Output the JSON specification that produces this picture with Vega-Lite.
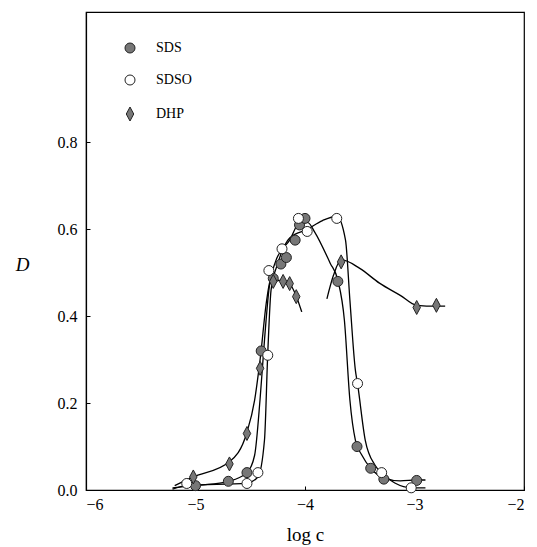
{
  "$schema": "https://vega.github.io/schema/vega-lite/v6.json",
  "width": 438,
  "height": 478,
  "autosize": "none",
  "padding": {"left": 86, "top": 12, "right": 13, "bottom": 57},
  "background": "white",
  "datasets": {
    "curves": [
      {"curve": "SDS", "x": -5.21, "y": 0.005},
      {"curve": "SDS", "x": -4.96, "y": 0.011},
      {"curve": "SDS", "x": -4.70, "y": 0.02},
      {"curve": "SDS", "x": -4.53, "y": 0.04},
      {"curve": "SDS", "x": -4.46, "y": 0.08},
      {"curve": "SDS", "x": -4.41, "y": 0.21},
      {"curve": "SDS", "x": -4.37, "y": 0.345},
      {"curve": "SDS", "x": -4.33, "y": 0.46},
      {"curve": "SDS", "x": -4.27, "y": 0.525},
      {"curve": "SDS", "x": -4.14, "y": 0.575},
      {"curve": "SDS", "x": -4.04, "y": 0.618},
      {"curve": "SDS", "x": -3.97, "y": 0.615},
      {"curve": "SDS", "x": -3.91, "y": 0.593},
      {"curve": "SDS", "x": -3.77, "y": 0.522},
      {"curve": "SDS", "x": -3.70, "y": 0.483},
      {"curve": "SDS", "x": -3.64, "y": 0.39},
      {"curve": "SDS", "x": -3.59, "y": 0.207},
      {"curve": "SDS", "x": -3.54, "y": 0.115},
      {"curve": "SDS", "x": -3.48, "y": 0.08},
      {"curve": "SDS", "x": -3.40, "y": 0.05},
      {"curve": "SDS", "x": -3.28, "y": 0.028},
      {"curve": "SDS", "x": -3.13, "y": 0.021},
      {"curve": "SDS", "x": -2.98, "y": 0.023},
      {"curve": "SDS", "x": -2.90, "y": 0.023},
      {"curve": "SDSO", "x": -5.21, "y": 0.002},
      {"curve": "SDSO", "x": -5.08, "y": 0.01},
      {"curve": "SDSO", "x": -4.53, "y": 0.016},
      {"curve": "SDSO", "x": -4.43, "y": 0.03},
      {"curve": "SDSO", "x": -4.37, "y": 0.115},
      {"curve": "SDSO", "x": -4.34, "y": 0.315},
      {"curve": "SDSO", "x": -4.31, "y": 0.46},
      {"curve": "SDSO", "x": -4.25, "y": 0.52},
      {"curve": "SDSO", "x": -4.14, "y": 0.58},
      {"curve": "SDSO", "x": -3.98, "y": 0.60},
      {"curve": "SDSO", "x": -3.84, "y": 0.62},
      {"curve": "SDSO", "x": -3.71, "y": 0.63},
      {"curve": "SDSO", "x": -3.63, "y": 0.575},
      {"curve": "SDSO", "x": -3.59, "y": 0.437},
      {"curve": "SDSO", "x": -3.54, "y": 0.276},
      {"curve": "SDSO", "x": -3.52, "y": 0.244},
      {"curve": "SDSO", "x": -3.45, "y": 0.115},
      {"curve": "SDSO", "x": -3.36, "y": 0.057},
      {"curve": "SDSO", "x": -3.30, "y": 0.039},
      {"curve": "SDSO", "x": -3.18, "y": 0.016},
      {"curve": "SDSO", "x": -3.02, "y": 0.005},
      {"curve": "SDSO", "x": -2.90, "y": 0.005},
      {"curve": "DHP1", "x": -5.19, "y": 0.01},
      {"curve": "DHP1", "x": -5.02, "y": 0.03},
      {"curve": "DHP1", "x": -4.69, "y": 0.065},
      {"curve": "DHP1", "x": -4.53, "y": 0.133},
      {"curve": "DHP1", "x": -4.46, "y": 0.207},
      {"curve": "DHP1", "x": -4.41, "y": 0.30},
      {"curve": "DHP1", "x": -4.35, "y": 0.437},
      {"curve": "DHP1", "x": -4.31, "y": 0.487},
      {"curve": "DHP1", "x": -4.25, "y": 0.483},
      {"curve": "DHP1", "x": -4.14, "y": 0.474},
      {"curve": "DHP1", "x": -4.08, "y": 0.446},
      {"curve": "DHP1", "x": -4.03, "y": 0.41},
      {"curve": "DHP2", "x": -3.80, "y": 0.44},
      {"curve": "DHP2", "x": -3.74, "y": 0.494},
      {"curve": "DHP2", "x": -3.67, "y": 0.53},
      {"curve": "DHP2", "x": -3.50, "y": 0.51},
      {"curve": "DHP2", "x": -3.32, "y": 0.476},
      {"curve": "DHP2", "x": -3.13, "y": 0.448},
      {"curve": "DHP2", "x": -2.98, "y": 0.425},
      {"curve": "DHP2", "x": -2.80, "y": 0.423},
      {"curve": "DHP2", "x": -2.72, "y": 0.423}
    ],
    "points": [
      {"series": "SDS", "x": -5.0, "y": 0.01},
      {"series": "SDS", "x": -4.70, "y": 0.02},
      {"series": "SDS", "x": -4.53, "y": 0.04},
      {"series": "SDS", "x": -4.40, "y": 0.32},
      {"series": "SDS", "x": -4.29, "y": 0.487},
      {"series": "SDS", "x": -4.22, "y": 0.52},
      {"series": "SDS", "x": -4.17, "y": 0.535},
      {"series": "SDS", "x": -4.09, "y": 0.575},
      {"series": "SDS", "x": -4.05, "y": 0.61},
      {"series": "SDS", "x": -4.0, "y": 0.625},
      {"series": "SDS", "x": -3.70, "y": 0.48},
      {"series": "SDS", "x": -3.525, "y": 0.10},
      {"series": "SDS", "x": -3.40, "y": 0.05},
      {"series": "SDS", "x": -3.28, "y": 0.025},
      {"series": "SDS", "x": -2.98, "y": 0.022},
      {"series": "SDSO", "x": -5.08, "y": 0.015},
      {"series": "SDSO", "x": -4.53, "y": 0.015},
      {"series": "SDSO", "x": -4.43, "y": 0.04},
      {"series": "SDSO", "x": -4.34, "y": 0.31},
      {"series": "SDSO", "x": -4.33, "y": 0.505},
      {"series": "SDSO", "x": -4.21, "y": 0.555},
      {"series": "SDSO", "x": -4.06, "y": 0.625},
      {"series": "SDSO", "x": -3.98, "y": 0.595},
      {"series": "SDSO", "x": -3.71, "y": 0.625},
      {"series": "SDSO", "x": -3.52, "y": 0.245},
      {"series": "SDSO", "x": -3.30, "y": 0.04},
      {"series": "SDSO", "x": -3.03, "y": 0.005},
      {"series": "DHP", "x": -5.02, "y": 0.03},
      {"series": "DHP", "x": -4.69, "y": 0.06},
      {"series": "DHP", "x": -4.53, "y": 0.13},
      {"series": "DHP", "x": -4.41, "y": 0.28},
      {"series": "DHP", "x": -4.29, "y": 0.48},
      {"series": "DHP", "x": -4.20, "y": 0.48},
      {"series": "DHP", "x": -4.14, "y": 0.475},
      {"series": "DHP", "x": -4.08, "y": 0.445},
      {"series": "DHP", "x": -3.67, "y": 0.525},
      {"series": "DHP", "x": -2.98, "y": 0.42},
      {"series": "DHP", "x": -2.80, "y": 0.425}
    ]
  },
  "layer": [
    {
      "data": {"name": "curves"},
      "mark": {"type": "line", "interpolate": "monotone", "color": "black", "strokeWidth": 1.3},
      "encoding": {
        "x": {"field": "x", "type": "quantitative"},
        "y": {"field": "y", "type": "quantitative"},
        "detail": {"field": "curve"}
      }
    },
    {
      "data": {"name": "points"},
      "mark": {"type": "point", "filled": true, "strokeWidth": 1, "size": 100, "opacity": 1},
      "encoding": {
        "x": {
          "field": "x", "type": "quantitative",
          "scale": {"domain": [-6, -2], "nice": false},
          "axis": {
            "values": [-6, -5, -4, -3, -2], "format": "d", "grid": false,
            "title": "log c", "titleX": 219, "titleY": 44, "titleAlign": "center", "titleBaseline": "middle"
          }
        },
        "y": {
          "field": "y", "type": "quantitative",
          "scale": {"domain": [0, 1.1], "nice": false},
          "axis": {
            "values": [0, 0.2, 0.4, 0.6, 0.8], "format": ".1f", "grid": false,
            "title": "D", "titleAngle": 0, "titleFontStyle": "italic", "titleX": -64, "titleY": 252, "titleAlign": "center", "titleBaseline": "middle"
          }
        },
        "stroke": {
          "field": "series", "type": "nominal",
          "scale": {"domain": ["SDS", "SDSO", "DHP"], "range": ["#222222", "#222222", "#222222"]},
          "legend": {"title": null, "orient": "none", "legendX": 37, "legendY": 29}
        },
        "shape": {
          "field": "series", "type": "nominal",
          "scale": {"domain": ["SDS", "SDSO", "DHP"], "range": ["circle", "circle", "M0,-1.4L0.75,0L0,1.4L-0.75,0Z"]},
          "legend": {"title": null, "orient": "none", "legendX": 37, "legendY": 29}
        },
        "fill": {
          "field": "series", "type": "nominal",
          "scale": {"domain": ["SDS", "SDSO", "DHP"], "range": ["#777777", "white", "#777777"]},
          "legend": {"title": null, "orient": "none", "legendX": 37, "legendY": 29}
        }
      }
    }
  ],
  "config": {
    "view": {"stroke": "black", "strokeWidth": 1.2},
    "axis": {
      "domainColor": "black", "domainWidth": 1.2, "tickColor": "black", "tickSize": -4,
      "labelFont": "Liberation Serif", "labelFontSize": 16, "labelColor": "black",
      "titleFont": "Liberation Serif", "titleFontSize": 19, "titleFontWeight": "normal", "titleColor": "black"
    },
    "axisX": {"labelPadding": 10},
    "axisY": {"labelPadding": 13},
    "legend": {
      "labelFont": "Liberation Serif", "labelFontSize": 14, "labelColor": "black",
      "symbolSize": 100, "symbolStrokeWidth": 1,
      "rowPadding": 18, "labelOffset": 19, "padding": 0
    }
  }
}
